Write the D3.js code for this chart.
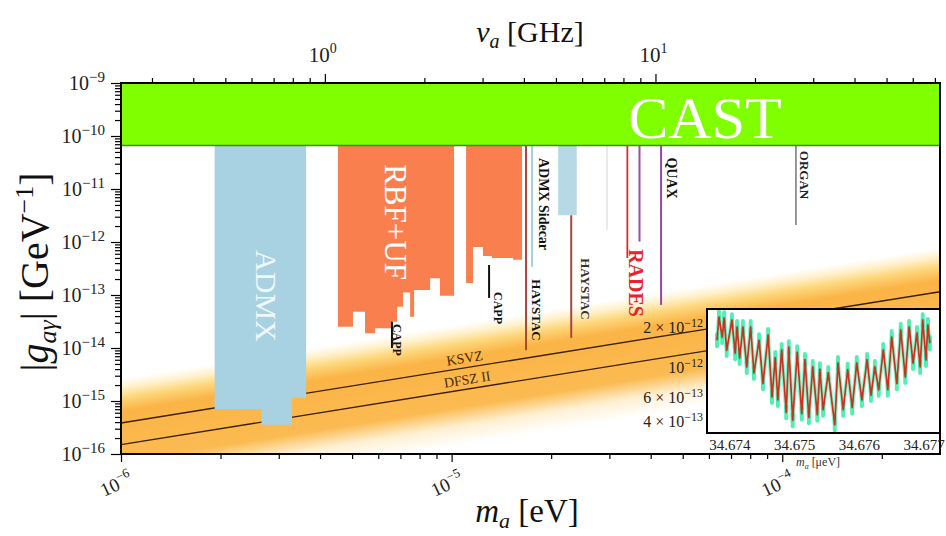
<!DOCTYPE html>
<html><head><meta charset="utf-8">
<script src="https://d3js.org/d3.v7.min.js"></script>
<style>
html,body{margin:0;padding:0;background:#fff;}
svg{display:block;}
text{font-family:"Liberation Serif","DejaVu Serif",serif;}
</style></head><body>
<svg id="chart" width="946" height="536"></svg>
<script>
// ---------------- data ----------------
const castLimit = 6.6e-11;                       // GeV^-1
const admxEdges  = [1.92e-6, 2.66e-6, 3.29e-6, 3.63e-6];   // eV
const admxLimits = [7.1e-16, 3.55e-16, 1.15e-15];
const rbfEdges  = [4.53e-6,5.03e-6,5.47e-6,5.87e-6,6.60e-6,6.84e-6,7.13e-6,7.49e-6,7.70e-6,8.61e-6,9.22e-6,1.017e-5];
const rbfLimits = [2.52e-14,4.84e-14,1.89e-14,2.35e-14,3.13e-14,6.0e-14,1.11e-13,3.9e-14,1.24e-13,2.07e-13,9.7e-14];
const ufEdges  = [1.106e-5,1.161e-5,1.244e-5,1.325e-5,1.534e-5,1.633e-5];
const ufLimits = [1.68e-13,8.05e-13,5.45e-13,5.0e-13,4.6e-13];
const admx2Edges  = [2.10e-5, 2.39e-5];
const admx2Limits = [3.2e-12];
const lineNames  = ["CAPP","CAPP","HAYSTAC","ADMX Sidecar","HAYSTAC","other","RADES","RADES","QUAX","ORGAN"];
const lineMass   = [6.60e-6,1.298e-5,1.679e-5,1.75e-5,2.30e-5,2.95e-5,3.40e-5,3.70e-5,4.30e-5,1.10e-4];
const lineTop    = [3.13e-14,3.68e-13,castLimit,castLimit,3.2e-12,castLimit,castLimit,castLimit,castLimit,castLimit];
const lineBottom = [1.0e-14,8.8e-14,9.1e-15,3.4e-13,1.55e-14,1.7e-12,5.0e-13,1.02e-12,6.5e-14,2.09e-12];
const modelNames = ["KSVZ","DFSZ II"];
const modelCoef  = [3.85e-16, 1.5e-16];           // g at m = 1 μeV
const xMajor = [1e-6, 1e-5, 1e-4];
const xMinor = [2e-6,3e-6,4e-6,5e-6,6e-6,7e-6,8e-6,9e-6,2e-5,3e-5,4e-5,5e-5,6e-5,7e-5,8e-5,9e-5,2e-4];
const yMajor = [1e-9,1e-10,1e-11,1e-12,1e-13,1e-14,1e-15,1e-16];
const fMajor = [1, 10];                           // GHz
const fMinor = [0.3,0.4,0.5,0.6,0.7,0.8,0.9,2,3,4,5,6,7,8,9,20,30,40,50,60,70];
const eVperGHz = 4.1357e-6;
// inset (RADES scan)
const insetMass = [34.67380,34.67383,34.67388,34.67391,34.67395,34.67403,34.67408,34.67411,34.67415,34.67420,
  34.67426,34.67432,34.67437,34.67445,34.67451,34.67459,34.67465,34.67470,34.67474,34.67480,
  34.67487,34.67491,34.67497,34.67504,34.67511,34.67516,34.67522,34.67528,34.67535,34.67539,
  34.67544,34.67552,34.67562,34.67567,34.67575,34.67582,34.67589,34.67596,34.67604,34.67612,
  34.67618,34.67624,34.67630,34.67637,34.67644,34.67650,34.67658,34.67664,34.67671,34.67677,
  34.67683,34.67689,34.67694,34.67698,34.67703,34.67706,34.67709];
const insetG = [16.1,23.9,17.0,23.5,13.6,22.7,12.9,20.2,11.9,20.2,
  10.2,20.2,9.2,16.1,7.7,17.6,6.1,11.9,5.8,13.6,
  4.7,14.3,4.1,13.1,4.6,11.5,4.3,10.2,4.5,9.8,
  4.9,9.2,3.8,10.9,4.9,9.7,5.1,10.9,5.8,11.5,
  6.3,10.2,6.9,13.6,6.9,17.0,7.7,19.2,8.6,20.2,
  10.9,18.2,10.2,22.7,11.5,20.9,15.3];            // units of 1e-13 GeV^-1
const insetXTicks = [34.674, 34.675, 34.676, 34.677];
const insetYTicks = [2e-12, 1e-12, 6e-13, 4e-13];

// ---------------- styles / layout ----------------
const L=121, R=940, T=83, B=454;
const lineColors = ["#111","#111","#a8453c","#a3d0e2","#a8453c","#e2e2e2","#e8232a","#9d4ba6","#8e4aa6","#8c8c8c"];
const lineWidths = [2,2,2,2,2,1.5,1.8,2,2,1.8];
const svg = d3.select("#chart");
const x = d3.scaleLog().domain([1e-6, 3e-4]).range([L, R]);
const y = d3.scaleLog().domain([1e-16, 1e-9]).range([B, T]);
const xf = d3.scaleLog().domain([1e-6/eVperGHz, 3e-4/eVperGHz]).range([L, R]);

const defs = svg.append("defs");
defs.append("clipPath").attr("id","pc").append("rect").attr("x",L).attr("y",T).attr("width",R-L).attr("height",B-T);
const plot = svg.append("g").attr("clip-path","url(#pc)");

// QCD band: linear gradient running perpendicular to the model lines
const bandR = [1.42,1.25,1.05,0.8,-0.15,-0.5,-0.85];
const bandC = ["#ffffff","#fff1cc","#fdd67a","#fbb446","#fbbb52","#fff0d2","#ffffff"];
const rTop = 1.45, rBot = -0.9;
const pa = [x(1e-6), y(1e-16)], pb = [x(1e-4), y(1e-14)];
let d0 = pb[0]-pa[0], d1 = pb[1]-pa[1]; const dl = Math.hypot(d0,d1); d0/=dl; d1/=dl;
const u = [-d1, d0];
const vgap = y(1e-16)-y(1e-15);
const glen = (rTop-rBot)*vgap*d0;
const P0 = [x(1e-6), y(1e-16*Math.pow(10,rTop))];
const grad = defs.append("linearGradient").attr("id","band").attr("gradientUnits","userSpaceOnUse")
  .attr("x1",P0[0]).attr("y1",P0[1]).attr("x2",P0[0]+u[0]*glen).attr("y2",P0[1]+u[1]*glen);
bandR.forEach((r,i)=>grad.append("stop").attr("offset",(rTop-r)/(rTop-rBot)).attr("stop-color",bandC[i]));
plot.append("rect").attr("x",L).attr("y",T).attr("width",R-L).attr("height",B-T).attr("fill","url(#band)");

// model lines
const mEnds = x.domain();
modelCoef.forEach(c=>{
  plot.append("line").attr("x1",x(mEnds[0])).attr("y1",y(c*mEnds[0]/1e-6))
    .attr("x2",x(mEnds[1])).attr("y2",y(c*mEnds[1]/1e-6))
    .attr("stroke","#3a200c").attr("stroke-width",1.4);
});

// exclusion regions
function stepPoly(edges, limits){
  const top = castLimit*1.5;
  const pts=[[edges[0], top]];
  limits.forEach((l,i)=>{pts.push([edges[i],l]); pts.push([edges[i+1],l]);});
  pts.push([edges[edges.length-1], top]);
  return d3.line().x(p=>x(p[0])).y(p=>y(p[1]))(pts)+"Z";
}
plot.append("path").attr("d",stepPoly(admxEdges,admxLimits)).attr("fill","#a8d2e1");
plot.append("path").attr("d",stepPoly(rbfEdges,rbfLimits)).attr("fill","#fa7f4f");
plot.append("path").attr("d",stepPoly(ufEdges,ufLimits)).attr("fill","#fa7f4f");
lineMass.forEach((m,i)=>{
  plot.append("line").attr("x1",x(m)).attr("x2",x(m)).attr("y1",y(lineTop[i])).attr("y2",y(lineBottom[i]))
    .attr("stroke",lineColors[i]).attr("stroke-width",lineWidths[i]);
});
plot.append("path").attr("d",stepPoly(admx2Edges,admx2Limits)).attr("fill","#a8d2e1").attr("opacity",0.85);

// CAST
plot.append("rect").attr("x",L).attr("width",R-L).attr("y",y(1e-9)).attr("height",y(castLimit)-y(1e-9)).attr("fill","#80ff00");
plot.append("line").attr("x1",L).attr("x2",R).attr("y1",y(castLimit)).attr("y2",y(castLimit)).attr("stroke","#3c8c10").attr("stroke-width",1.5);

// labels
const ann = plot.append("g");
ann.append("text").attr("x",x(5.84e-5)).attr("y",y(castLimit)-8).attr("text-anchor","middle")
  .attr("font-size",60).attr("fill","#fff").text("CAST");
const vLabels = [
  {t:"ADMX", m:2.75e-6, g:9.6e-14, fs:30, c:"#eef7fa", w:"normal"},
  {t:"RBF+UF", m:6.79e-6, g:2.38e-12, fs:31, c:"#fff", w:"normal"},
  {t:"CAPP", m:6.84e-6, g:1.42e-14, fs:12, c:"#111", w:"bold"},
  {t:"CAPP", m:1.381e-5, g:5.69e-14, fs:12, c:"#111", w:"bold"},
  {t:"ADMX Sidecar", m:1.904e-5, g:5.21e-12, fs:14, c:"#111", w:"bold"},
  {t:"HAYSTAC", m:1.813e-5, g:5.2e-14, fs:13, c:"#111", w:"bold"},
  {t:"HAYSTAC", m:2.533e-5, g:1.3e-13, fs:13, c:"#333", w:"bold"},
  {t:"RADES", m:3.61e-5, g:1.68e-13, fs:20, c:"#e8232a", w:"bold"},
  {t:"QUAX", m:4.64e-5, g:1.61e-11, fs:14, c:"#111", w:"bold"},
  {t:"ORGAN", m:1.172e-4, g:1.84e-11, fs:13, c:"#222", w:"bold"}
];
vLabels.forEach(d=>{
  ann.append("text").attr("transform",`translate(${x(d.m)},${y(d.g)}) rotate(90)`)
    .attr("text-anchor","middle").attr("dy","0.35em").attr("font-size",d.fs)
    .attr("font-weight",d.w).attr("fill",d.c).text(d.t);
});
const ang = Math.atan2(y(1e-14)-y(1e-16), x(1e-4)-x(1e-6))*180/Math.PI;
[1.10e-5, 1.12e-5].forEach((mm,i)=>{
  const gg=modelCoef[i]*mm/1e-6;
  ann.append("text").attr("transform",`translate(${x(mm)},${y(gg)-5}) rotate(${ang})`)
    .attr("text-anchor","middle").attr("font-size",14).attr("fill","#4a2a0a").text(modelNames[i]);
});

// ---------------- axes ----------------
function styleAxis(g){ g.select(".domain").remove(); g.selectAll("line").attr("stroke","#000").attr("stroke-width",1.2); }
svg.append("g").attr("transform",`translate(0,${B})`).call(d3.axisBottom(x).tickValues(xMinor).tickSize(5).tickFormat("")).call(styleAxis);
svg.append("g").attr("transform",`translate(0,${B})`).call(d3.axisBottom(x).tickValues(xMajor).tickSize(8).tickFormat("")).call(styleAxis);
svg.append("g").attr("transform",`translate(0,${T})`).call(d3.axisTop(xf).tickValues(fMinor).tickSize(5).tickFormat("")).call(styleAxis);
svg.append("g").attr("transform",`translate(0,${T})`).call(d3.axisTop(xf).tickValues(fMajor).tickSize(9).tickFormat("")).call(styleAxis);
const yMinor = [];
yMajor.slice(1).forEach(v=>{ [2,3,4,5,6,7,8,9].forEach(k=>yMinor.push(v*k)); });
svg.append("g").attr("transform",`translate(${L},0)`).call(d3.axisLeft(y).tickValues(yMinor).tickSize(6).tickFormat("")).call(styleAxis);
svg.append("g").attr("transform",`translate(${L},0)`).call(d3.axisLeft(y).tickValues(yMajor).tickSize(10).tickFormat("")).call(styleAxis);
svg.append("rect").attr("x",L).attr("y",T).attr("width",R-L).attr("height",B-T).attr("fill","none").attr("stroke","#000").attr("stroke-width",2);

function pow10(sel, mant, exp, fs, sfs, up){
  sel.append("tspan").attr("font-size",fs).text(mant);
  sel.append("tspan").attr("font-size",sfs).attr("dy",-up).text(exp);
}
const minus = e => (e<0?"\u2212":"")+Math.abs(e);
yMajor.forEach(v=>{
  const e = Math.round(Math.log10(v));
  const t = svg.append("text").attr("x",105).attr("y",y(v)+7).attr("text-anchor","end").attr("fill","#222");
  pow10(t,"10",minus(e),20,15,8);
});
xMajor.forEach(v=>{
  const e = Math.round(Math.log10(v));
  const t = svg.append("text").attr("transform",`translate(${x(v)-2},${490}) rotate(-25)`).attr("text-anchor","middle").attr("fill","#222");
  pow10(t,"10",minus(e),19,13,8);
});
fMajor.forEach(v=>{
  const e = Math.round(Math.log10(v));
  const t = svg.append("text").attr("x",xf(v)-2).attr("y",62).attr("text-anchor","middle").attr("fill","#222");
  pow10(t,"10",minus(e),21,14,9);
});
const tt = svg.append("text").attr("x",530).attr("y",42).attr("text-anchor","middle").attr("font-size",30).attr("fill","#111");
tt.append("tspan").attr("font-style","italic").text("\u03bd");
tt.append("tspan").attr("font-style","italic").attr("font-size",20).attr("dy",6).text("a");
tt.append("tspan").attr("dy",-6).text(" [GHz]");
const bt = svg.append("text").attr("x",527).attr("y",522).attr("text-anchor","middle").attr("font-size",33).attr("fill","#111");
bt.append("tspan").attr("font-style","italic").text("m");
bt.append("tspan").attr("font-style","italic").attr("font-size",22).attr("dy",6).text("a");
bt.append("tspan").attr("dy",-6).text(" [eV]");
const lt = svg.append("text").attr("transform","translate(48,272) rotate(-90)").attr("text-anchor","middle").attr("font-size",40).attr("fill","#111");
lt.append("tspan").text("|");
lt.append("tspan").attr("font-style","italic").text("g");
lt.append("tspan").attr("font-style","italic").attr("font-size",26).attr("dy",8).text("a\u03b3");
lt.append("tspan").attr("dy",-8).text("| [GeV");
lt.append("tspan").attr("font-size",26).attr("dy",-15).text("\u22121");
lt.append("tspan").attr("dy",15).text("]");

// ---------------- inset ----------------
const IX0=707, IX1=940, IY0=309, IY1=433;
const ix = d3.scaleLinear().domain([34.673645, 34.677247]).range([IX0, IX1]);
const iy = d3.scaleLog().domain([3.29e-13, 2.75e-12]).range([IY1, IY0]);
defs.append("clipPath").attr("id","ic").append("rect").attr("x",IX0).attr("y",IY0).attr("width",IX1-IX0).attr("height",IY1-IY0);
const inset = svg.append("g");
inset.append("rect").attr("x",IX0).attr("y",IY0).attr("width",IX1-IX0).attr("height",IY1-IY0).attr("fill","#fff");
const ig = inset.append("g").attr("clip-path","url(#ic)");
const iline = d3.line().x((d,i)=>ix(insetMass[i])).y(d=>iy(d*1e-13));
ig.append("path").attr("d",iline(insetG)).attr("fill","none").attr("stroke","#3ff0b0").attr("stroke-width",4).attr("stroke-linejoin","round").attr("opacity",0.6);
ig.selectAll("line.err").data(insetG).join("line").attr("class","err")
  .attr("x1",(d,i)=>ix(insetMass[i])).attr("x2",(d,i)=>ix(insetMass[i]))
  .attr("y1",d=>iy(d*1e-13)-6).attr("y2",d=>iy(d*1e-13)+6)
  .attr("stroke","#1ee89a").attr("stroke-width",4).attr("stroke-linecap","round").attr("opacity",0.75);
ig.append("path").attr("d",iline(insetG)).attr("fill","none").attr("stroke","#c8321e").attr("stroke-width",1.7).attr("stroke-linejoin","round");
inset.append("rect").attr("x",IX0).attr("y",IY0).attr("width",IX1-IX0).attr("height",IY1-IY0).attr("fill","none").attr("stroke","#000").attr("stroke-width",2);
insetXTicks.forEach(v=>{
  svg.append("text").attr("x",ix(v)).attr("y",450).attr("text-anchor","middle").attr("font-size",15).attr("fill","#222").text(v.toFixed(3));
});
insetYTicks.forEach(v=>{
  const e = Math.floor(Math.log10(v)+1e-9), mant = Math.round(v/Math.pow(10,e));
  const t = svg.append("text").attr("x",703).attr("y",iy(v)+5).attr("text-anchor","end").attr("fill","#222");
  pow10(t, mant===1?"10":mant+" \u00d7 10", minus(e), 16, 12, 6);
});
const il = svg.append("text").attr("x",818).attr("y",466).attr("text-anchor","middle").attr("font-size",12).attr("fill","#333");
il.append("tspan").attr("font-style","italic").text("m");
il.append("tspan").attr("font-style","italic").attr("font-size",8).attr("dy",3).text("a");
il.append("tspan").attr("dy",-3).text(" [\u03bceV]");
</script></body></html>
